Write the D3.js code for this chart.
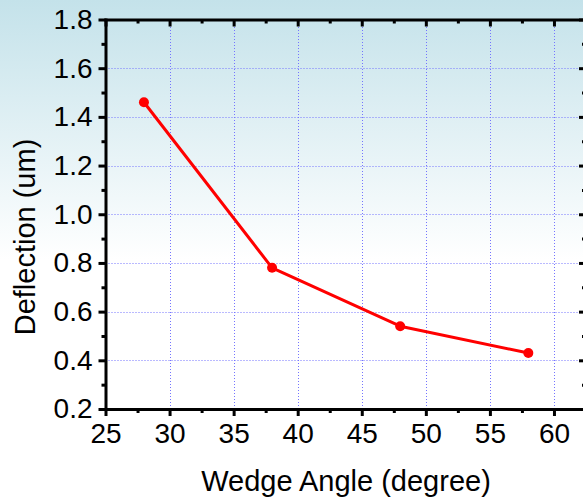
<!DOCTYPE html>
<html>
<head>
<meta charset="utf-8">
<script src="https://cdn.jsdelivr.net/npm/d3@7"></script>
<style>
  html, body { margin: 0; padding: 0; background: #fff; }
  svg { display: block; }
  text { font-family: "Liberation Sans", Arial, sans-serif; fill: #000; }
</style>
</head>
<body>
<svg id="chart" width="583" height="500"></svg>
<script>
// Deflection measured at each wedge angle
const wedgeAngles = [28, 38, 48, 58];
const deflections = [1.46, 0.78, 0.54, 0.43];

// Axis ticks
const xMajorTicks = [25, 30, 35, 40, 45, 50, 55, 60];
const xMinorTicks = [27.5, 32.5, 37.5, 42.5, 47.5, 52.5, 57.5, 62.5];
const yMajorTicks = [0.2, 0.4, 0.6, 0.8, 1.0, 1.2, 1.4, 1.6, 1.8];
const yMinorTicks = [0.3, 0.5, 0.7, 0.9, 1.1, 1.3, 1.5, 1.7];
const xGridTicks = [30, 35, 40, 45, 50, 55, 60];
const yGridTicks = [0.4, 0.6, 0.8, 1.0, 1.2, 1.4, 1.6];

const xTitle = "Wedge Angle (degree)";
const yTitle = "Deflection (um)";

const W = 583, H = 500;
const svg = d3.select("#chart");

// Page background: pale blue fading to white
const defs = svg.append("defs");
const grad = defs.append("linearGradient")
  .attr("id", "bg").attr("x1", 0).attr("y1", 0).attr("x2", 0).attr("y2", 1);
grad.append("stop").attr("offset", "0%").attr("stop-color", "#c4e2ea");
grad.append("stop").attr("offset", "52%").attr("stop-color", "#ffffff");
grad.append("stop").attr("offset", "100%").attr("stop-color", "#ffffff");
svg.append("rect").attr("width", W).attr("height", H).attr("fill", "url(#bg)");

const x = d3.scaleLinear().domain([25, 62.5]).range([105.5, 586]);
const y = d3.scaleLinear().domain([0.2, 1.8]).range([409, 19.5]);

const [x0, x1] = x.range();
const [y0, y1] = y.range();

// Dotted grid
const grid = svg.append("g")
  .attr("stroke", "#7474ff").attr("stroke-width", 1)
  .attr("stroke-dasharray", "1,2").attr("fill", "none");
grid.selectAll("line.v").data(xGridTicks).join("line").attr("class", "v")
  .attr("x1", d => Math.round(x(d)) + 0.5).attr("x2", d => Math.round(x(d)) + 0.5)
  .attr("y1", y0).attr("y2", y1);
grid.selectAll("line.h").data(yGridTicks).join("line").attr("class", "h")
  .attr("y1", d => Math.round(y(d)) + 0.5).attr("y2", d => Math.round(y(d)) + 0.5)
  .attr("x1", x0).attr("x2", x1);

function styleAxis(g) {
  g.select(".domain").attr("stroke", "#000").attr("stroke-width", 3)
    .attr("stroke-linecap", "square");
  g.selectAll(".tick line").attr("stroke", "#000").attr("stroke-width", 3);
  g.selectAll(".tick text").style("font-size", "28px")
    .style("font-family", "'Liberation Sans', Arial, sans-serif");
}

// Bottom axis (ticks outward)
const gb = svg.append("g").attr("transform", `translate(0,${y0})`)
  .call(d3.axisBottom(x).tickValues(xMajorTicks).tickSize(7).tickSizeOuter(0)
    .tickPadding(7).tickFormat(d3.format("d")));
styleAxis(gb);
gb.selectAll(".tick text").attr("y", 34).attr("dy", 0);
svg.append("g").attr("transform", `translate(0,${y0})`)
  .call(d3.axisBottom(x).tickValues(xMinorTicks).tickSize(4).tickSizeOuter(0).tickFormat(""))
  .call(g => { styleAxis(g); g.select(".domain").remove(); });

// Top axis (ticks inward)
const gt = svg.append("g").attr("transform", `translate(0,${y1})`)
  .call(d3.axisTop(x).tickValues(xMajorTicks).tickSize(-7).tickSizeOuter(0).tickFormat(""));
styleAxis(gt);
svg.append("g").attr("transform", `translate(0,${y1})`)
  .call(d3.axisTop(x).tickValues(xMinorTicks).tickSize(-4).tickSizeOuter(0).tickFormat(""))
  .call(g => { styleAxis(g); g.select(".domain").remove(); });

// Left axis (ticks outward)
const gl = svg.append("g").attr("transform", `translate(${x0},0)`)
  .call(d3.axisLeft(y).tickValues(yMajorTicks).tickSize(7).tickSizeOuter(0)
    .tickPadding(6).tickFormat(d3.format(".1f")));
styleAxis(gl);
svg.append("g").attr("transform", `translate(${x0},0)`)
  .call(d3.axisLeft(y).tickValues(yMinorTicks).tickSize(4).tickSizeOuter(0).tickFormat(""))
  .call(g => { styleAxis(g); g.select(".domain").remove(); });

// Right axis (ticks inward)
const gr = svg.append("g").attr("transform", `translate(${x1},0)`)
  .call(d3.axisRight(y).tickValues(yMajorTicks).tickSize(-7).tickSizeOuter(0).tickFormat(""));
styleAxis(gr);
svg.append("g").attr("transform", `translate(${x1},0)`)
  .call(d3.axisRight(y).tickValues(yMinorTicks).tickSize(-4).tickSizeOuter(0).tickFormat(""))
  .call(g => { styleAxis(g); g.select(".domain").remove(); });

// Data series
const pts = wedgeAngles.map((a, i) => [a, deflections[i]]);
svg.append("path").datum(pts)
  .attr("fill", "none").attr("stroke", "#ff0000").attr("stroke-width", 3)
  .attr("stroke-linejoin", "round")
  .attr("d", d3.line().x(d => x(d[0])).y(d => y(d[1])));
svg.append("g").selectAll("circle").data(pts).join("circle")
  .attr("cx", d => x(d[0])).attr("cy", d => y(d[1])).attr("r", 5)
  .attr("fill", "#ff0000");

// Axis titles
svg.append("text").attr("x", 346).attr("y", 491)
  .attr("text-anchor", "middle").style("font-size", "29px").text(xTitle);
svg.append("text")
  .attr("transform", "translate(35,237) rotate(-90)")
  .attr("text-anchor", "middle").style("font-size", "29px").text(yTitle);
</script>
</body>
</html>
